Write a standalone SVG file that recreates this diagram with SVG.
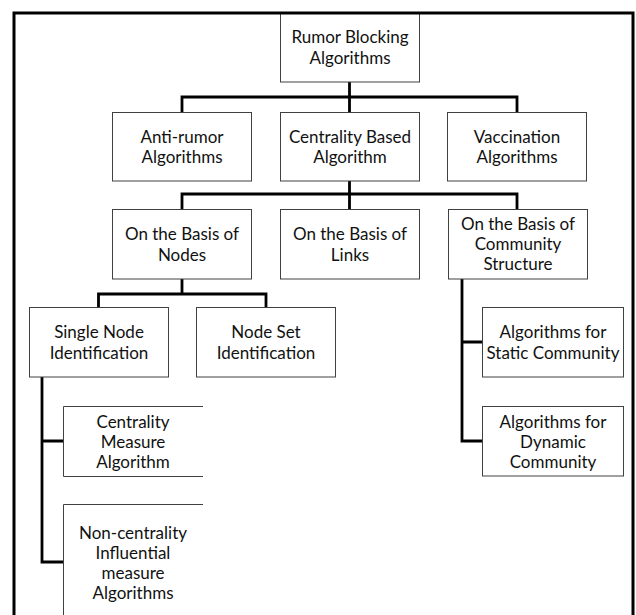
<svg xmlns="http://www.w3.org/2000/svg" width="636" height="615" viewBox="0 0 636 615">
<style>
.box{fill:#fff;stroke:#404040;stroke-width:1}
.open{fill:#fff;stroke:#404040;stroke-width:1}
.conn{fill:none;stroke:#000;stroke-width:2.8;stroke-linejoin:miter}
.frame{fill:none;stroke:#000;stroke-width:3}
text{font-family:Lato,"Liberation Sans",sans-serif;font-size:17px;text-anchor:middle;fill:#111}
</style>
<rect width="636" height="615" fill="#fff"/>
<g id="connectors">
<path class="conn" d="M349.5,82 V97 M182,112 V97 H517 V112 M349.5,97 V112"/>
<path class="conn" d="M349.5,181 V194 M182,209 V194 H517 V209 M349.5,194 V209"/>
<path class="conn" d="M182,279 V294 M98.5,307 V294 H266 V307"/>
<path class="conn" d="M42,377 V562 H63 M42,441 H63"/>
<path class="conn" d="M462,279 V441 H482 M462,342 H482"/>
</g>
<g id="root">
<rect class="box" x="280.5" y="13.5" width="139" height="68.5"/>
<text x="350" y="43">Rumor Blocking</text>
<text x="350" y="63.5">Algorithms</text>
</g>
<g id="anti-rumor">
<rect class="box" x="112.5" y="112.5" width="139" height="68.5"/>
<text x="182" y="142.5">Anti-rumor</text>
<text x="182" y="163">Algorithms</text>
</g>
<g id="centrality-based">
<rect class="box" x="280.5" y="112.5" width="139" height="68.5"/>
<text x="350" y="142.5">Centrality Based</text>
<text x="350" y="163">Algorithm</text>
</g>
<g id="vaccination">
<rect class="box" x="447.5" y="112.5" width="139" height="68.5"/>
<text x="517" y="142.5">Vaccination</text>
<text x="517" y="163">Algorithms</text>
</g>
<g id="basis-nodes">
<rect class="box" x="112.5" y="209.5" width="139" height="69.5"/>
<text x="182" y="240">On the Basis of</text>
<text x="182" y="260.5">Nodes</text>
</g>
<g id="basis-links">
<rect class="box" x="280.5" y="209.5" width="139" height="69.5"/>
<text x="350" y="240">On the Basis of</text>
<text x="350" y="260.5">Links</text>
</g>
<g id="basis-community">
<rect class="box" x="448.5" y="209.5" width="139" height="69.5"/>
<text x="518" y="230.2">On the Basis of</text>
<text x="518" y="250.2">Community</text>
<text x="518" y="270.2">Structure</text>
</g>
<g id="single-node">
<rect class="box" x="29.5" y="307.5" width="139" height="69.5"/>
<text x="99" y="338">Single Node</text>
<text x="99" y="358.5">Identification</text>
</g>
<g id="node-set">
<rect class="box" x="196.5" y="307.5" width="139" height="69.5"/>
<text x="266" y="338">Node Set</text>
<text x="266" y="358.5">Identification</text>
</g>
<g id="static-community">
<rect class="box" x="482.5" y="307.5" width="141" height="69.5"/>
<text x="553" y="338">Algorithms for</text>
<text x="553" y="358.5">Static Community</text>
</g>
<g id="dynamic-community">
<rect class="box" x="482.5" y="406.5" width="141" height="69.5"/>
<text x="553" y="427.5">Algorithms for</text>
<text x="553" y="447.5">Dynamic</text>
<text x="553" y="467.5">Community</text>
</g>
<g id="centrality-measure">
<path class="open" d="M203,406.5 H63.5 V476.5 H203"/>
<text x="133" y="428.2">Centrality</text>
<text x="133" y="448.2">Measure</text>
<text x="133" y="468.2">Algorithm</text>
</g>
<g id="non-centrality">
<path class="open" d="M203,504.5 H63.5 V615"/>
<text x="133" y="539.2">Non-centrality</text>
<text x="133" y="559.2">Influential</text>
<text x="133" y="579.2">measure</text>
<text x="133" y="599.2">Algorithms</text>
</g>
<path class="frame" d="M14,615 V13 H633 V615"/>
</svg>
